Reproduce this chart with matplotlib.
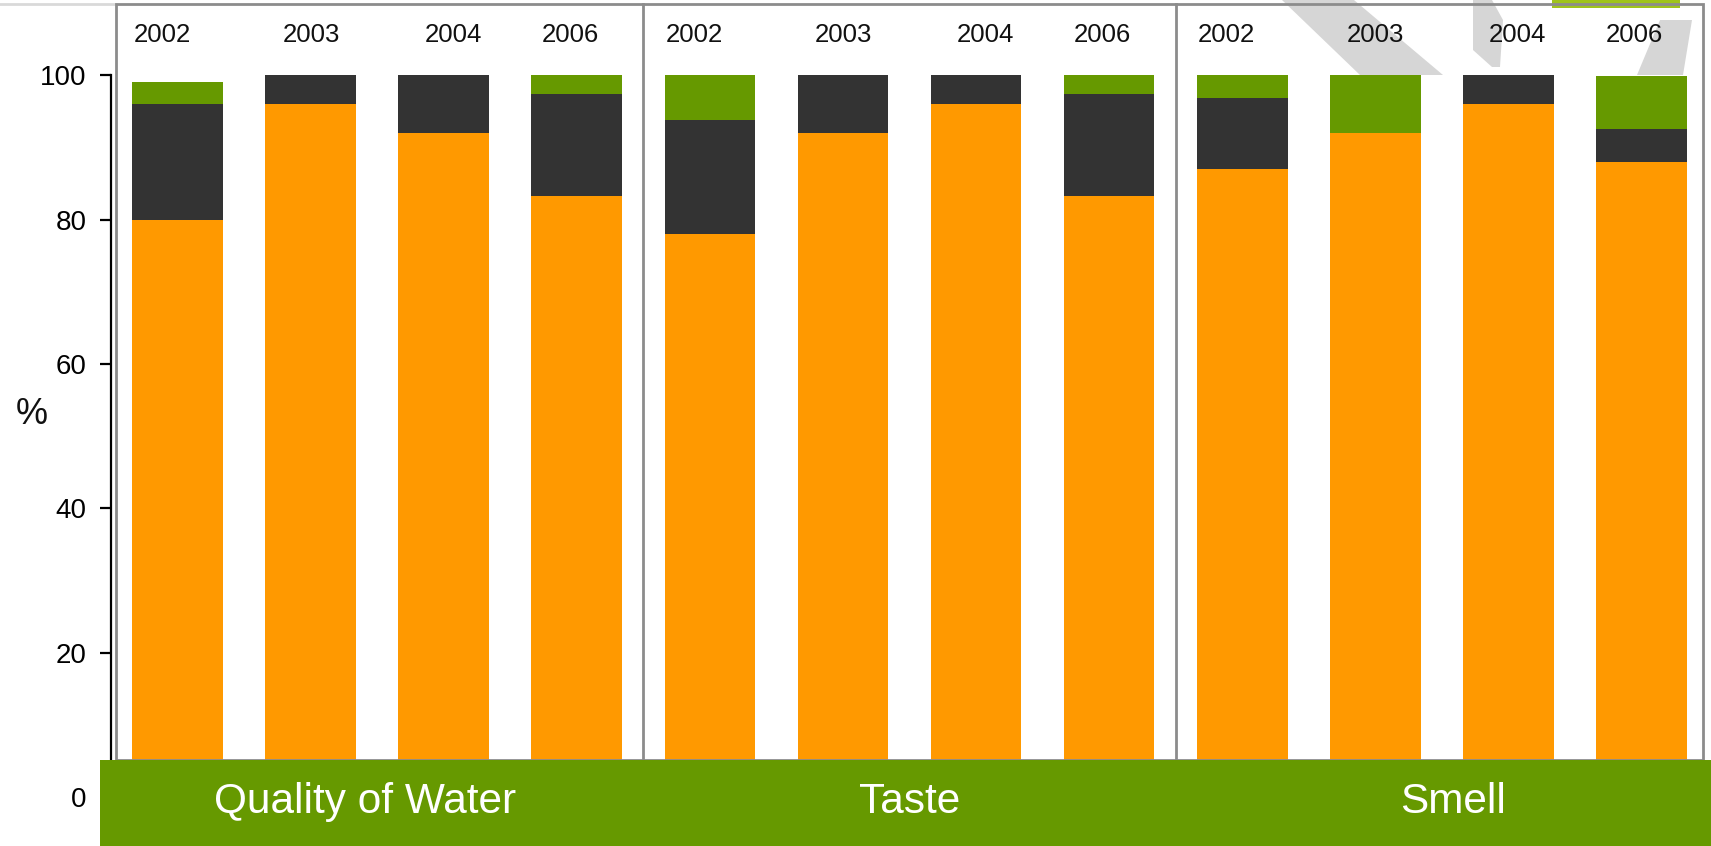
import numpy as np
import matplotlib
matplotlib.use("Agg")
import matplotlib.pyplot as plt
from matplotlib.patches import Rectangle, Polygon

plt.rcParams['font.family'] = ['Liberation Sans', 'DejaVu Sans']

# survey results, stacked per year within each category
categories = ["Quality of Water", "Taste", "Smell"]
years = ["2002", "2003", "2004", "2006"]
orange_pct = [80, 96, 92, 83.3, 78, 92, 96, 83.3, 87, 92, 96, 88]
dark_pct = [16, 4, 8, 14.1, 15.8, 8, 4, 14.1, 9.9, 0, 4, 4.6]
green_pct = [3, 0, 0, 2.6, 6.2, 0, 0, 2.6, 3.1, 8, 0, 7.3]
yticks = [0, 20, 40, 60, 80, 100]

ORANGE = "#ff9900"
DARK = "#333333"
GREEN = "#669900"
FRAME = "#8c8c8c"

W, H = 1711, 846
fig = plt.figure(figsize=(W / 100, H / 100), dpi=100)

# background decoration layer in pixel units
deco = fig.add_axes([0, 0, 1, 1], zorder=0)
deco.set_xlim(0, W)
deco.set_ylim(H, 0)
deco.axis("off")
gray = "#d6d6d6"
deco.add_patch(Polygon([(1282, 0), (1354, 0), (1443, 75), (1360, 75)], closed=True, color=gray, lw=0))
deco.add_patch(Polygon([(1473, 0), (1492, 0), (1503, 20), (1500, 67), (1492, 67), (1473, 50)],
                       closed=True, color=gray, lw=0))
deco.add_patch(Polygon([(1660, 20), (1692, 20), (1683, 75), (1637, 75)], closed=True, color=gray, lw=0))
deco.add_patch(Rectangle((1552, 0), 128, 8, color="#9fc31b", lw=0))
deco.plot([0, 116], [4, 4], color="#d9d9d9", lw=2)

ax = fig.add_axes([0, 0, 1, 1], zorder=1)
ax.patch.set_alpha(0)

x = np.arange(len(orange_pct))
bw = 0.684
orange = np.array(orange_pct)
dark = np.array(dark_pct)
green = np.array(green_pct)
ax.bar(x, orange, bw, color=ORANGE, zorder=2)
ax.bar(x, dark, bw, bottom=orange, color=DARK, zorder=2)
ax.bar(x, green, bw, bottom=orange + dark, color=GREEN, zorder=2)

ax.set_xlim(-1.338, 11.526)
ax.set_ylim(-6.79, 110.43)

# panel frame
band_top = 5.13
frame_top = 109.88
left, right = -0.468, 11.466
ax.add_patch(Rectangle((left, band_top), right - left, frame_top - band_top,
                       fill=False, ec=FRAME, lw=2, zorder=3))
for xd in [3.5, 7.5]:
    ax.plot([xd, xd], [band_top, frame_top], color=FRAME, lw=2, zorder=3)

# year labels above each bar
year_shift = [-0.12, 0.0, 0.07, -0.05]
for i in range(len(x)):
    ax.text(x[i] + year_shift[i % 4], 104.66, years[i % 4], ha="center", va="baseline",
            fontsize=18.5, color="#111111", zorder=4)

# category band along the bottom
ax.add_patch(Rectangle((-0.586, -7), 13, band_top + 7, color=GREEN, lw=0,
                       zorder=5, clip_on=False))
cat_shift = [-0.09, 0.0, 0.09]
for k, name in enumerate(categories):
    ax.text(1.5 + 4 * k + cat_shift[k], -2.2, name, ha="center", va="baseline",
            fontsize=30.5, color="white", zorder=6)

# y axis
for s in ["top", "right", "bottom"]:
    ax.spines[s].set_visible(False)
ax.spines["left"].set_position(("data", -0.504))
ax.spines["left"].set_bounds(0, 100)
ax.spines["left"].set_linewidth(1.6)
ax.set_yticks(yticks)
ax.tick_params(axis="y", direction="out", length=8, width=1.6, pad=9.4,
               labelsize=20)
ax.set_xticks([])
ax.text(-1.1, 53, "%", ha="center", va="center", fontsize=26, color="#111111")

fig.savefig("out.png", dpi=100)
